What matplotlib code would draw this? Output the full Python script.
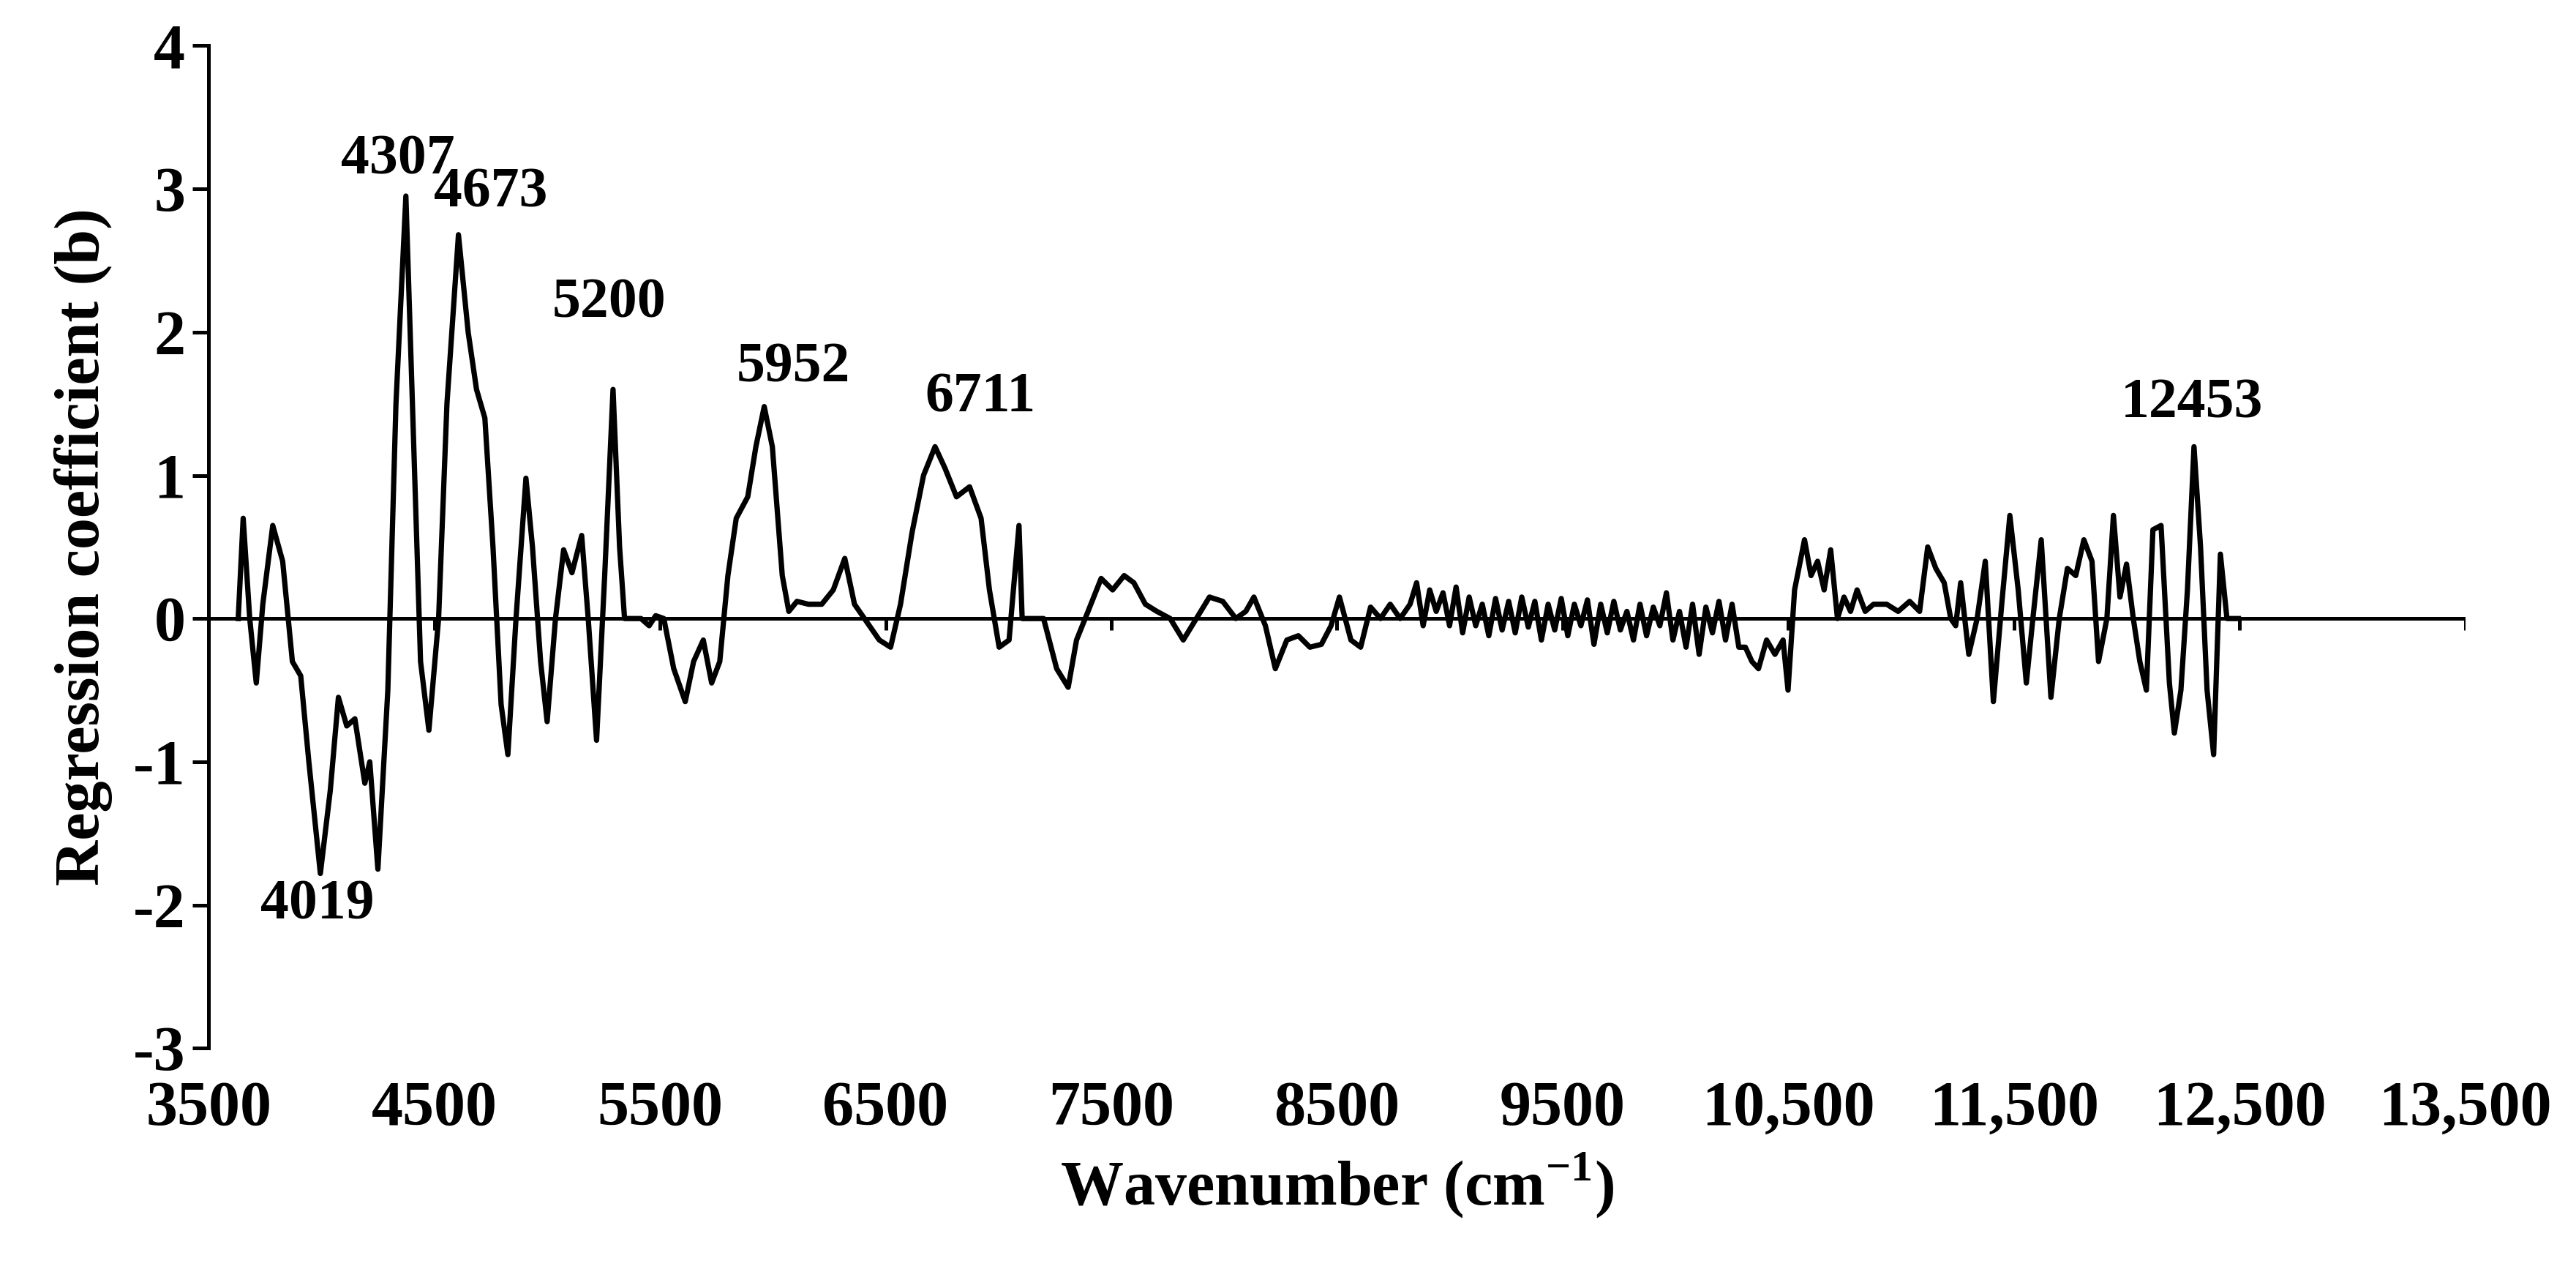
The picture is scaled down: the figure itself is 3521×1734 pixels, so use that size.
import numpy as np
import matplotlib
matplotlib.use('Agg')
import matplotlib.pyplot as plt

plt.rcParams['font.family'] = ['Liberation Serif', 'DejaVu Serif']
plt.rcParams['font.weight'] = 'bold'
plt.rcParams['axes.unicode_minus'] = False
plt.rcParams['mathtext.fontset'] = 'custom'
plt.rcParams['mathtext.rm'] = 'Liberation Serif'
plt.rcParams['mathtext.bf'] = 'Liberation Serif:bold'

# curve, in pieces
wn_low = [3631, 3653, 3682, 3711, 3740, 3784, 3828, 3871, 3908, 3944, 3995, 4039, 4075, 4112, 4148, 4192, 4214, 4250, 4294, 4330,
          4374, 4403, 4439, 4476, 4519, 4556, 4607, 4650, 4687, 4724, 4760, 4796, 4826, 4862, 4906, 4935, 4971, 5000, 5037, 5073,
          5110, 5153, 5182, 5219, 5255, 5292, 5321, 5343, 5416, 5452, 5481, 5517, 5561, 5612, 5649, 5692, 5729, 5765, 5801, 5838,
          5889, 5925, 5962, 5998, 6042, 6071, 6107, 6158, 6217, 6268, 6319, 6362, 6406, 6472, 6522, 6566, 6617, 6668, 6719, 6763,
          6814, 6872, 6923, 6960, 7003, 7047, 7091, 7105, 7200, 7258, 7309, 7346, 7397, 7455, 7506, 7557, 7600, 7651, 7702, 7761,
          7819, 7877, 7935, 7994, 8052, 8096, 8132, 8183, 8227, 8278, 8329, 8380, 8431, 8474, 8511, 8562, 8605, 8649, 8693, 8736,
          8780, 8824]
b_low = [0.0, 0.7, 0.0, -0.45, 0.1, 0.65, 0.4, -0.3, -0.4, -1.0, -1.78, -1.2, -0.55, -0.75, -0.7, -1.15, -1.0, -1.75, -0.5, 1.5,
         2.95, 1.5, -0.3, -0.78, 0.0, 1.5, 2.68, 2.0, 1.6, 1.4, 0.5, -0.6, -0.95, 0.0, 0.98, 0.5, -0.3, -0.72, 0.0, 0.48,
         0.32, 0.58, 0.0, -0.85, 0.3, 1.6, 0.5, 0.0, 0.0, -0.05, 0.02, 0.0, -0.35, -0.58, -0.3, -0.15, -0.45, -0.3, 0.3, 0.7,
         0.85, 1.2, 1.48, 1.2, 0.3, 0.05, 0.12, 0.1, 0.1, 0.2, 0.42, 0.1, 0.0, -0.15, -0.2, 0.1, 0.6, 1.0, 1.2, 1.05,
         0.85, 0.92, 0.7, 0.2, -0.2, -0.15, 0.65, 0.0, 0.0, -0.35, -0.48, -0.15, 0.05, 0.28, 0.2, 0.3, 0.25, 0.1, 0.05, 0.0,
         -0.15, 0.0, 0.15, 0.12, 0.0, 0.05, 0.15, -0.05, -0.35, -0.15, -0.12, -0.2, -0.18, -0.05, 0.15, -0.15, -0.2, 0.08, 0.0, 0.1,
         0.0, 0.1]
wn_mid = [8853, 8882, 8911, 8940, 8970, 8999, 9028, 9057, 9086, 9115, 9144, 9173, 9203, 9232, 9261, 9290, 9319, 9348, 9377, 9406,
          9436, 9465, 9494, 9523, 9552, 9581, 9610, 9639, 9669, 9698, 9727, 9756, 9785, 9814, 9843, 9872, 9902, 9931, 9960, 9989,
          10018, 10047, 10076, 10105, 10135, 10164, 10193, 10222, 10251, 10281]
b_mid = [0.25, -0.05, 0.2, 0.05, 0.18, -0.05, 0.22, -0.1, 0.15, -0.05, 0.1, -0.12, 0.14, -0.08, 0.12, -0.1, 0.15, -0.06, 0.12, -0.15,
         0.1, -0.08, 0.14, -0.12, 0.1, -0.05, 0.13, -0.18, 0.1, -0.1, 0.12, -0.08, 0.05, -0.15, 0.1, -0.12, 0.08, -0.05, 0.18, -0.15,
         0.05, -0.2, 0.1, -0.25, 0.08, -0.1, 0.12, -0.15, 0.1, -0.2]
wn_high = [10310, 10339, 10368, 10404, 10441, 10477, 10499, 10528, 10572, 10601, 10630, 10659, 10688, 10718, 10747, 10776, 10805, 10841,
           10878, 10936, 10987, 11038, 11082, 11118, 11154, 11191, 11220, 11242, 11264, 11300, 11337, 11373, 11409, 11446, 11482, 11519,
           11555, 11584, 11621, 11664, 11701, 11737, 11774, 11810, 11846, 11875, 11912, 11941, 11970, 11999, 12029, 12058, 12087, 12116,
           12152, 12189, 12211, 12240, 12269, 12298, 12327, 12356, 12385, 12415, 12444, 12495]
b_high = [-0.2, -0.3, -0.35, -0.15, -0.25, -0.15, -0.5, 0.2, 0.55, 0.3, 0.4, 0.2, 0.48, 0.0, 0.15, 0.05, 0.2, 0.05,
          0.1, 0.1, 0.05, 0.12, 0.05, 0.5, 0.35, 0.25, 0.0, -0.05, 0.25, -0.25, 0.0, 0.4, -0.58, 0.1, 0.72, 0.2,
          -0.45, 0.0, 0.55, -0.55, 0.0, 0.35, 0.3, 0.55, 0.4, -0.3, 0.0, 0.72, 0.15, 0.38, 0.0, -0.3, -0.5, 0.62,
          0.65, -0.45, -0.8, -0.5, 0.2, 1.2, 0.5, -0.5, -0.95, 0.45, 0.0, 0.0]

peak_labels = ['4019', '4307', '4673', '5200', '5952', '6711', '12453']
peak_x = [3980, 4340, 4750, 5275, 6090, 6920, 12290]
peak_y = [-2.0, 3.2, 2.97, 2.2, 1.75, 1.54, 1.5]

xticks = [3500, 4500, 5500, 6500, 7500, 8500, 9500, 10500, 11500, 12500, 13500]
xtick_labels = ['3500', '4500', '5500', '6500', '7500', '8500', '9500', '10,500', '11,500', '12,500', '13,500']

wavenumber = wn_low + wn_mid + wn_high
coef = b_low + b_mid + b_high

fig = plt.figure(figsize=(17.605, 8.67), dpi=200)
ax = fig.add_axes([0.081, 0.174, 0.876, 0.79])

ax.plot(wavenumber, coef, color='black', lw=2.6, solid_joinstyle='round')
ax.axhline(0, color='black', lw=1.8)
ax.vlines(xticks, -0.08, 0, color='black', lw=1.8)

for lab, x, y in zip(peak_labels, peak_x, peak_y):
    ax.text(x, y, lab, ha='center', va='center', fontsize=28, fontweight='bold')

ax.set_xlim(3500, 13500)
ax.set_ylim(-3, 4)
ax.set_yticks(range(-3, 5))
ax.set_xticks(xticks)
ax.set_xticklabels(xtick_labels)
ax.tick_params(axis='x', length=0, pad=16, labelsize=31)
ax.tick_params(axis='y', direction='out', length=8, width=1.8, labelsize=31)
for s in ['top', 'right', 'bottom']:
    ax.spines[s].set_visible(False)
ax.spines['left'].set_linewidth(1.8)

ax.set_xlabel(r'Wavenumber (cm$^{\mathbf{-1}}$)', fontsize=31, fontweight='bold', labelpad=6)
ax.set_ylabel('Regression coefficient (b)', fontsize=31, fontweight='bold', labelpad=10)

fig.savefig('out.png', dpi=200)
